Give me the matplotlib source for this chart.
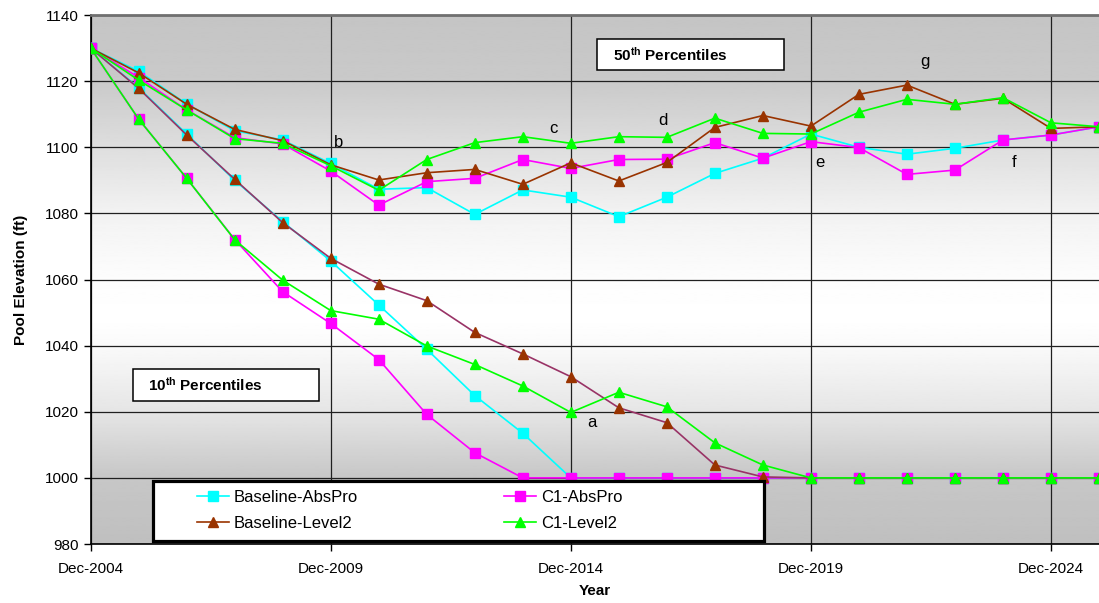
import numpy as np
import matplotlib.pyplot as plt
from matplotlib.patches import Rectangle

plt.rcParams['font.family'] = ['Liberation Sans', 'DejaVu Sans']
plt.rcParams['mathtext.fontset'] = 'custom'
plt.rcParams['mathtext.rm'] = 'Liberation Sans'
plt.rcParams['mathtext.bf'] = 'Liberation Sans:bold'

years = ["Dec-%d" % y for y in range(2004, 2026)]

# 50th percentile pool elevations (ft)
ba_50 = [1130, 1123, 1113.1, 1105, 1102.2, 1095.1, 1087.3, 1087.8, 1079.7, 1087.1, 1084.9,
         1079, 1084.9, 1092.1, 1096.7, 1104, 1100, 1097.9, 1099.7, 1102.2, 1103.7, 1106.2]
c1a_50 = [1130, 1121.1, 1111.3, 1102.9, 1101, 1092.8, 1082.5, 1089.6, 1090.6, 1096.3, 1093.6,
          1096.3, 1096.4, 1101.4, 1096.7, 1101.7, 1099.9, 1091.8, 1093.1, 1102.2, 1103.7, 1106.2]
bl_50 = [1130, 1122.5, 1113, 1105.4, 1102, 1094.7, 1090.1, 1092.3, 1093.3, 1088.8, 1095.3,
         1089.8, 1095.4, 1106, 1109.6, 1106.4, 1116, 1118.8, 1113, 1114.8, 1105.7, 1106.2]
c1l_50 = [1130, 1120.3, 1111.3, 1102.6, 1101.2, 1094.4, 1087, 1096.3, 1101.4, 1103.2, 1101.2,
          1103.2, 1103, 1108.8, 1104.2, 1104, 1110.6, 1114.5, 1113, 1115, 1107.4, 1106.2]

# 10th percentile pool elevations (ft)
ba_10 = [1130, 1118, 1104, 1090, 1077.5, 1065.6, 1052.3, 1038.9, 1024.9, 1013.5, 1000,
         1000, 1000, 1000, 1000, 1000, 1000, 1000, 1000, 1000, 1000, 1000]
c1a_10 = [1130, 1108.5, 1090.6, 1072.1, 1056.3, 1046.7, 1035.8, 1019.2, 1007.6, 1000, 1000,
          1000, 1000, 1000, 1000, 1000, 1000, 1000, 1000, 1000, 1000, 1000]
bl_10 = [1130, 1117.8, 1103.7, 1090.3, 1077.2, 1066.4, 1058.6, 1053.6, 1044, 1037.5, 1030.6,
         1021.2, 1016.7, 1003.9, 1000.3, 1000, 1000, 1000, 1000, 1000, 1000, 1000]
c1l_10 = [1130, 1108.5, 1090.6, 1072, 1059.8, 1050.6, 1048, 1039.9, 1034.3, 1027.8, 1019.8,
          1025.9, 1021.5, 1010.6, 1003.9, 1000, 1000, 1000, 1000, 1000, 1000, 1000]

# point labels
notes = ["a", "b", "c", "d", "e", "f", "g"]
note_x = [10.43, 5.17, 9.64, 11.91, 15.18, 19.23, 17.38]
note_y = [1016.9, 1101.3, 1105.8, 1108.2, 1095.5, 1095.5, 1125.8]

x = np.arange(len(years))

fig = plt.figure(figsize=(10.99, 6.03), dpi=100)
ax = fig.add_axes([0.0825, 0.0978, 0.9175, 0.8773])

# grey-white-grey vertical gradient behind the plot
yy = np.linspace(980, 1140, 400)
stops_v = [980, 1000, 1020, 1040, 1048, 1060, 1080, 1100, 1120, 1140]
stops_c = [0.75, 0.78, 0.90, 0.98, 1.0, 0.99, 0.95, 0.87, 0.79, 0.77]
shade = np.interp(yy, stops_v, stops_c)
ax.imshow(shade[::-1, None], cmap='gray', vmin=0, vmax=1, aspect='auto',
          extent=[0, 21, 980, 1140], zorder=0, interpolation='bilinear')

ax.set_xlim(0, 21)
ax.set_ylim(980, 1140)
ax.set_yticks(np.arange(980, 1141, 20))
ax.set_xticks(x[::5])
ax.set_xticklabels(years[::5])
ax.grid(True, color='#202020', linewidth=0.9, zorder=1)
ax.set_axisbelow(True)

ax.tick_params(axis='both', labelsize=11, length=5, width=1, color='black', direction='out')
ax.tick_params(axis='x', pad=8)
for s in ['left', 'bottom']:
    ax.spines[s].set_color('black')
    ax.spines[s].set_linewidth(1.2)
ax.spines['top'].set_color('#707070')
ax.spines['top'].set_linewidth(2)
ax.spines['right'].set_visible(False)

ms, mt, lw = 6.5, 7.5, 1.2
ax.plot(x, ba_10, color='#00FFFF', marker='s', ms=ms, lw=lw, zorder=3)
ax.plot(x, c1a_10, color='#FF00FF', marker='s', ms=ms, lw=lw, zorder=3)
ax.plot(x, bl_10, color='#993366', marker='^', ms=mt, mfc='#993300', mec='#993300', lw=lw, zorder=3)
ax.plot(x, c1l_10, color='#00FF00', marker='^', ms=mt, lw=lw, zorder=3)

l1, = ax.plot(x, ba_50, color='#00FFFF', marker='s', ms=ms, lw=lw, zorder=4, label='Baseline-AbsPro')
l2, = ax.plot(x, c1a_50, color='#FF00FF', marker='s', ms=ms, lw=lw, zorder=4, label='C1-AbsPro')
l3, = ax.plot(x, bl_50, color='#993300', marker='^', ms=mt, lw=lw, zorder=4, label='Baseline-Level2')
l4, = ax.plot(x, c1l_50, color='#00FF00', marker='^', ms=mt, lw=lw, zorder=4, label='C1-Level2')

for t, tx, ty in zip(notes, note_x, note_y):
    ax.text(tx, ty, t, fontsize=12, ha='center', va='center', zorder=6)

# percentile boxes
ax.add_patch(Rectangle((10.55, 1123.27), 3.9, 9.38, facecolor='white', edgecolor='black',
                       lw=1.1, zorder=5))
ax.text(10.87, 1128.0, r'$\mathbf{50^{th}}$ Percentiles', fontsize=11, fontweight='bold',
        va='center', ha='left', zorder=6)
ax.add_patch(Rectangle((0.874, 1023.24), 3.883, 9.76, facecolor='white', edgecolor='black',
                       lw=1.1, zorder=5))
ax.text(1.19, 1028.3, r'$\mathbf{10^{th}}$ Percentiles', fontsize=11, fontweight='bold',
        va='center', ha='left', zorder=6)

# legend frame drawn by hand, entries placed inside it
ax.add_patch(Rectangle((1.29, 980.9), 12.74, 18.1, facecolor='white', edgecolor='black',
                       lw=2.3, zorder=5, clip_on=False))
leg = ax.legend(handles=[l1, l3, l2, l4], ncol=2, frameon=False, fontsize=12,
                loc='upper left', bbox_to_anchor=(0.1054, 0.102), borderpad=0,
                borderaxespad=0, handlelength=1.92, handletextpad=0.3,
                columnspacing=8.75, labelspacing=0.65)
leg.set_zorder(7)

ax.set_ylabel('Pool Elevation (ft)', fontsize=11, fontweight='bold', labelpad=12)
ax.set_xlabel('Year', fontsize=11, fontweight='bold', labelpad=6)

fig.savefig('out.png', dpi=100)
